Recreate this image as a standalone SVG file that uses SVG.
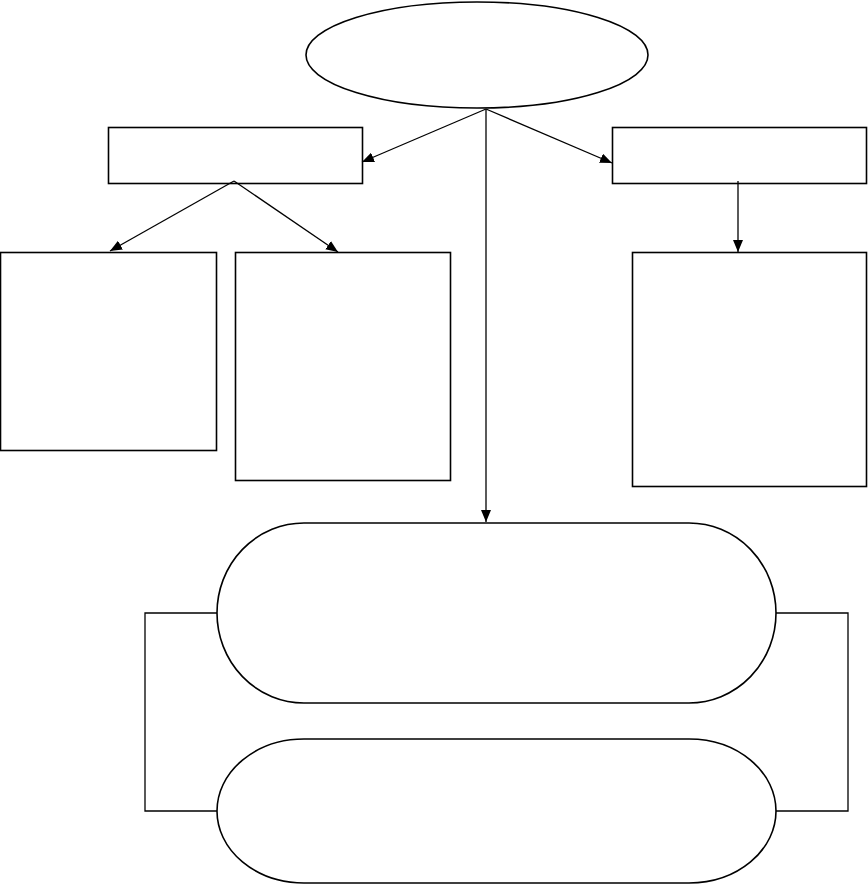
<svg xmlns="http://www.w3.org/2000/svg" width="868" height="884" viewBox="0 0 868 884">
<style>
.n{fill:#fff;stroke:#000;stroke-width:1.6}
.c{fill:none;stroke:#000;stroke-width:1.3}
</style>
<defs>
<marker id="ah" viewBox="0 0 12 10" refX="12" refY="5" markerWidth="12" markerHeight="10" markerUnits="userSpaceOnUse" orient="auto">
<path d="M0,0 L12,5 L0,10 Z" fill="#000"/>
</marker>
</defs>
<rect width="868" height="884" fill="#fff"/>
<g id="root"><ellipse class="n" cx="477" cy="55" rx="171" ry="53"/></g>
<g id="box-left"><rect class="n" x="108.5" y="127.5" width="254" height="56"/></g>
<g id="box-right"><rect class="n" x="612.5" y="127.5" width="254" height="56"/></g>
<g id="box-a"><rect class="n" x="0.5" y="252.5" width="216" height="198"/></g>
<g id="box-b"><rect class="n" x="235.5" y="252.5" width="215" height="228"/></g>
<g id="box-c"><rect class="n" x="632.5" y="252.5" width="234" height="234"/></g>
<g id="stadium-1"><rect class="n" x="217" y="523" width="559" height="180" rx="87" ry="90"/></g>
<g id="stadium-2"><rect class="n" x="217" y="739" width="559" height="144" rx="87" ry="72"/></g>
<g id="connectors">
<line class="c" x1="486" y1="109" x2="362" y2="162" marker-end="url(#ah)"/>
<line class="c" x1="486" y1="109" x2="612" y2="163" marker-end="url(#ah)"/>
<line class="c" x1="486" y1="109" x2="486" y2="522" marker-end="url(#ah)"/>
<line class="c" x1="234" y1="181" x2="110" y2="251" marker-end="url(#ah)"/>
<line class="c" x1="234" y1="181" x2="338" y2="252" marker-end="url(#ah)"/>
<line class="c" x1="738" y1="181" x2="738" y2="252" marker-end="url(#ah)"/>
<polyline class="c" points="217,613 145,613 145,811 217,811"/>
<polyline class="c" points="776,613 848,613 848,811 776,811"/>
</g>
</svg>
